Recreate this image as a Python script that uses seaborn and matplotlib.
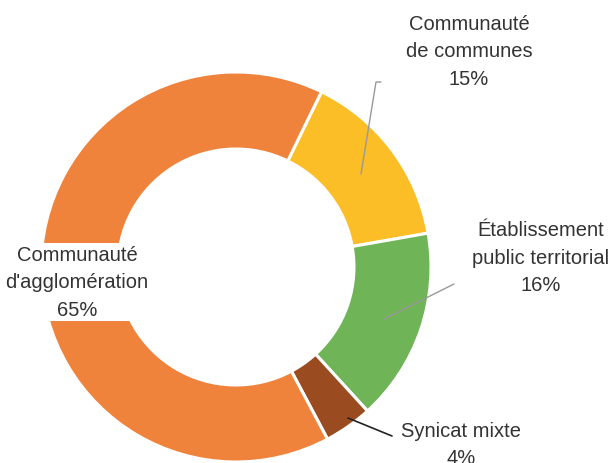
import matplotlib
matplotlib.use("Agg")
import matplotlib.pyplot as plt
import numpy as np
import seaborn as sns

# share of each structure type (clockwise from the top-right)
categories = ["Communauté\nde communes", "Établissement\npublic territorial",
              "Synicat mixte", "Communauté\nd'agglomération"]
shares = [15, 16, 4, 65]
colors = ["#FCBE27", "#6FB457", "#9A4B1F", "#F0833B"]

sns.set_theme(style="white")
plt.rcParams['font.family'] = ['Liberation Sans', 'DejaVu Sans']

fig = plt.figure(figsize=(6.13, 4.64), dpi=100)
ax = fig.add_axes([0, 0, 1, 1])

# pie centre sits at pixel (236, 268), outer radius 195 px
cx, cy, R = 236, 268, 195


def px(x, y):
    return ((x - cx) / R, (cy - y) / R)


wedges, _ = ax.pie(shares, colors=colors, startangle=64, counterclock=False,
                   radius=1.0,
                   wedgeprops=dict(width=0.395, edgecolor="white", linewidth=2.2))

ax.set_xlim(-cx / R, (613 - cx) / R)
ax.set_ylim(-(464 - cy) / R, cy / R)
ax.set_aspect("auto")
ax.axis("off")

txt = "#333333"
fs = 14.5
ls = 1.55

# yellow slice label
ax.text(*px(469, 52), f"{categories[0]}\n{shares[0]}%", ha="center", va="center",
        fontsize=fs, color=txt, linespacing=ls)
ax.plot(*zip(px(361, 175), px(376, 83), px(381, 83)), color="#999999", lw=1)

# green slice label
ax.text(*px(541, 258), f"{categories[1]}\n{shares[1]}%", ha="center", va="center",
        fontsize=fs, color=txt, linespacing=ls)
ax.plot(*zip(px(384, 320), px(454, 285)), color="#999999", lw=1)

# brown slice label
ax.text(*px(461, 445), f"{categories[2]}\n{shares[2]}%", ha="center", va="center",
        fontsize=fs, color=txt, linespacing=ls)
ax.plot(*zip(px(348, 419), px(392, 437)), color="#222222", lw=1.2)

# orange slice label with white box over the ring
ax.text(*px(77, 283), f"{categories[3]}\n{shares[3]}%", ha="center", va="center",
        fontsize=fs, color=txt, linespacing=ls,
        bbox=dict(facecolor="white", edgecolor="none", boxstyle="square,pad=0.1"))

fig.savefig("out.png", dpi=100)
